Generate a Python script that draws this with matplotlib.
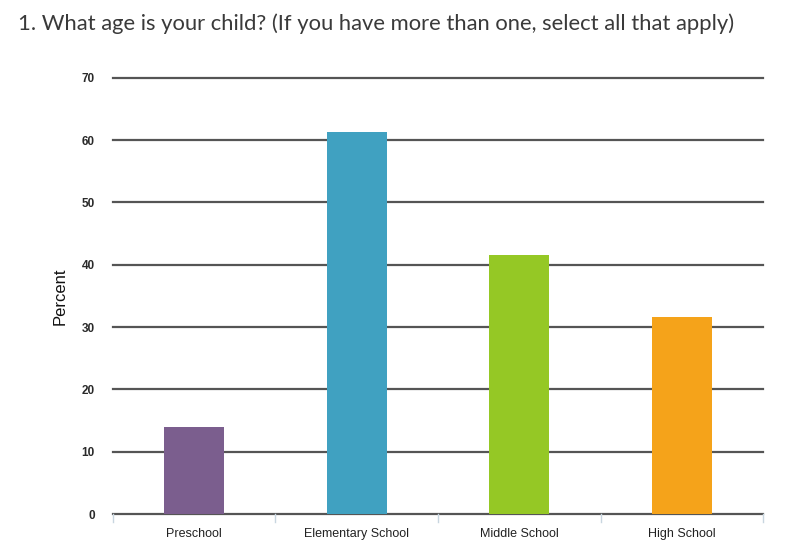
import matplotlib
matplotlib.use("Agg")
import matplotlib.pyplot as plt
import numpy as np

categories = ["Preschool", "Elementary School", "Middle School", "High School"]
percents = [13.9, 61.3, 41.5, 31.6]
bar_colors = ["#7b5e8e", "#40a1c1", "#95c825", "#f5a31a"]
y_ticks = [0, 10, 20, 30, 40, 50, 60, 70]

title = "1. What age is your child? (If you have more than one, select all that apply)"

fig = plt.figure(figsize=(8, 5.6), dpi=100)
ax = fig.add_axes([0.141, 0.082, 0.813, 0.779])

x = np.arange(len(categories))
ax.bar(x, percents, width=0.37, color=bar_colors, zorder=3)

ax.set_xlim(-0.5, len(categories) - 0.5)
ax.set_ylim(0, 70)
ax.set_yticks(y_ticks)
ax.set_yticklabels([str(t) for t in y_ticks], fontsize=8.5, family="Liberation Sans",
                   color="#2a2a2a", weight="bold")
ax.set_xticks(x)
ax.set_xticklabels(categories, fontsize=9, family="Liberation Sans", color="#222222")
ax.tick_params(axis="y", length=0, pad=13)
ax.tick_params(axis="x", length=0, pad=10)

# horizontal grid lines (not clipped, so the top and bottom ones keep full width)
for t in y_ticks:
    ax.axhline(t, color="#555555", lw=1.6, zorder=1, clip_on=False)

# separators between categories under the axis
for b in np.arange(-0.5, len(categories), 1.0):
    ax.plot([b, b], [0, -1.2], color="#c8d6e0", lw=1, clip_on=False, zorder=1)

for s in ax.spines.values():
    s.set_visible(False)

ax.set_ylabel("Percent", fontsize=12, family="Liberation Sans", color="#111111", labelpad=10)

fig.text(0.022, 0.958, title, fontsize=15.8, family="Lato", color="#3a3a3a", va="center", ha="left")

fig.savefig("out.png", dpi=100)
